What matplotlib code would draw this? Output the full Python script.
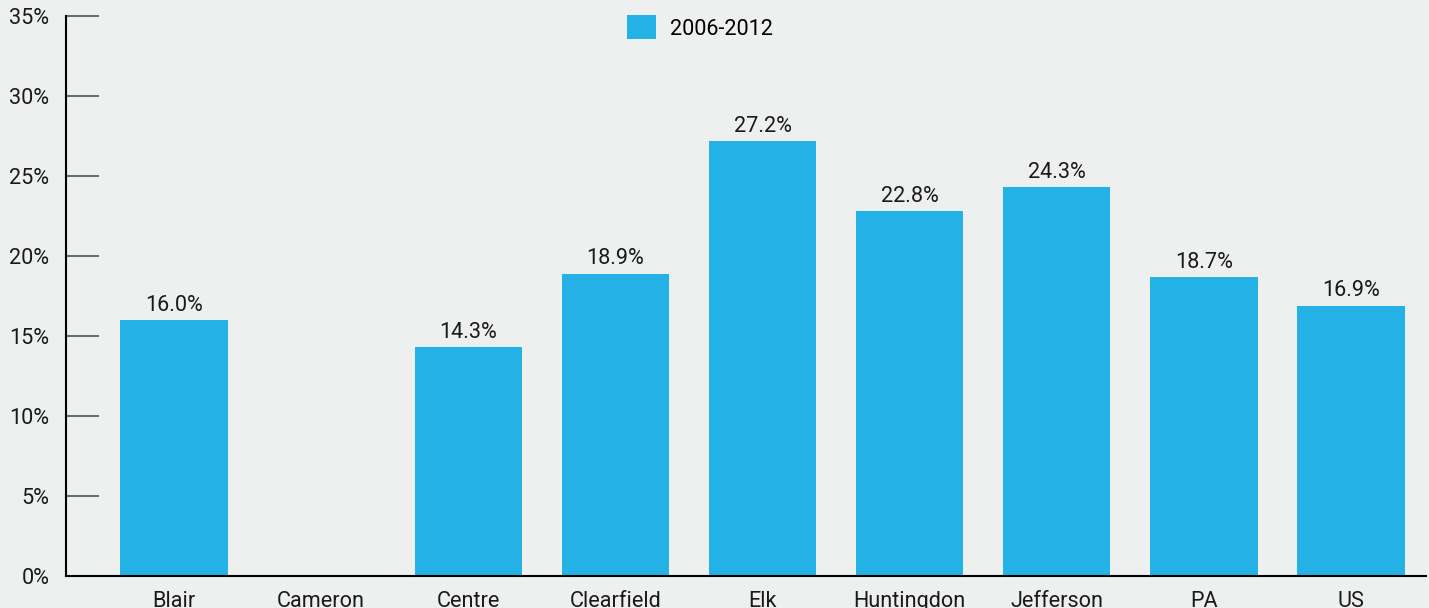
import numpy as np
import matplotlib.pyplot as plt

plt.rcParams['font.family'] = ['Roboto', 'DejaVu Sans']

counties = ["Blair", "Cameron", "Centre", "Clearfield", "Elk",
            "Huntingdon", "Jefferson", "PA", "US"]
values = [16.0, np.nan, 14.3, 18.9, 27.2, 22.8, 24.3, 18.7, 16.9]
series_name = "2006-2012"
yticks = [0, 5, 10, 15, 20, 25, 30, 35]

BAR_COLOR = '#23b1e6'
BG = '#eef0ef'
FS = 15.6

fig = plt.figure(figsize=(14.29, 6.08), dpi=100, facecolor=BG)
ax = fig.add_axes([66 / 1429, 32 / 608, 1360 / 1429, 560 / 608])
ax.set_facecolor(BG)

x = np.arange(len(counties))
bars = ax.bar(x, values, width=0.73, color=BAR_COLOR, label=series_name)

for xi, v in zip(x, values):
    if np.isnan(v):
        continue
    ax.annotate(f"{v:.1f}%", (xi, v), xytext=(0, 3), textcoords='offset points',
                ha='center', va='bottom', fontsize=FS, color='#1a1a1a')

ax.set_xlim(-0.735, 8.51)
ax.set_ylim(0, 35)
ax.set_yticks(yticks)
ax.set_yticklabels([f"{t}%" for t in yticks])
ax.set_xticks(x)
ax.set_xticklabels(counties)

ax.tick_params(axis='y', direction='in', length=24, width=1.1, color='#444444',
               pad=12, labelsize=FS, labelcolor='#1a1a1a')
ax.tick_params(axis='x', length=0, pad=11, labelsize=FS, labelcolor='#1a1a1a')

for s in ['top', 'right']:
    ax.spines[s].set_visible(False)
ax.spines['left'].set_linewidth(1.5)
ax.spines['bottom'].set_linewidth(1.5)

fig.legend(handles=[bars], loc='center', bbox_to_anchor=(0.49, 0.955),
           frameon=False, fontsize=FS, handlelength=1.35, handleheight=1.35,
           handletextpad=0.65)

fig.savefig('out.png', dpi=100, facecolor=BG)
